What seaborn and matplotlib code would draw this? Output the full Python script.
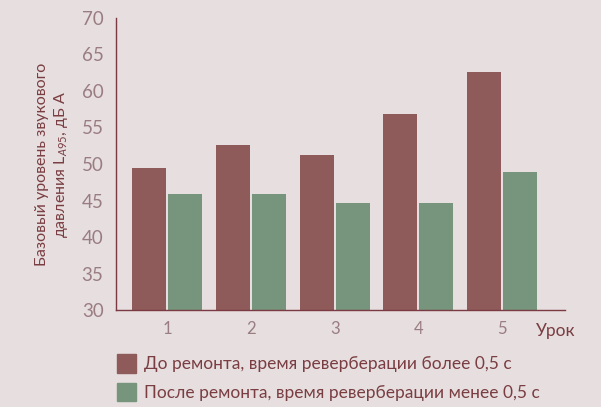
import pandas as pd
import matplotlib.pyplot as plt
import seaborn as sns

# data
lessons = ["1", "2", "3", "4", "5"]
before = [49.5, 52.6, 51.2, 56.9, 62.6]
after = [45.9, 45.9, 44.7, 44.7, 48.9]
series_names = ["До ремонта, время реверберации более 0,5 с",
                "После ремонта, время реверберации менее 0,5 с"]

df = pd.DataFrame({
    "lesson": lessons * 2,
    "value": before + after,
    "series": [series_names[0]] * 5 + [series_names[1]] * 5,
})

bg = "#E6DEDF"
axis_col = "#7B3A42"
tick_col = "#9A7D83"
text_col = "#7A3E42"
palette = ["#8E5B5A", "#77957C"]

sns.set_theme(style="white")
plt.rcParams["font.family"] = ["Lato", "DejaVu Sans"]
plt.rcParams["mathtext.fontset"] = "custom"
plt.rcParams["mathtext.it"] = "Lato:italic"
plt.rcParams["mathtext.rm"] = "Lato"

fig = plt.figure(figsize=(6.01, 4.07), dpi=100, facecolor=bg)
ax = fig.add_axes([0.193, 0.238, 0.747, 0.718])
ax.set_facecolor(bg)

sns.barplot(data=df, x="lesson", y="value", hue="series", palette=palette,
            width=0.86, gap=0.06, bottom=0, saturation=1, linewidth=0,
            ax=ax, legend=False)

ax.set_ylim(30, 70)
ax.set_xlim(-0.61, 4.75)
ax.set_yticks(range(30, 71, 5))

for side in ["top", "right"]:
    ax.spines[side].set_visible(False)
for side in ["left", "bottom"]:
    ax.spines[side].set_color(axis_col)
    ax.spines[side].set_linewidth(1.0)

ax.tick_params(axis="y", length=5, width=1, color=axis_col,
               labelcolor=tick_col, labelsize=13.5, pad=4)
ax.tick_params(axis="x", length=0, labelcolor=tick_col, labelsize=12, pad=8)
ax.set_xlabel("")
ax.set_ylabel("Базовый уровень звукового\nдавления L$_{\\mathit{A95}}$, дБ А",
              color=text_col, fontsize=11.5, labelpad=8, linespacing=1.25)

fig.text(0.957, 0.168, "Урок", color=text_col, fontsize=12.5, ha="right", va="bottom")

handles = [plt.Rectangle((0, 0), 1, 1, color=c) for c in palette]
fig.legend(handles, series_names, loc="upper left", bbox_to_anchor=(0.195, 0.13),
           frameon=False, fontsize=12.5, labelcolor=text_col,
           handlelength=1.1, handleheight=1.3, handletextpad=0.45,
           labelspacing=0.55, borderaxespad=0, borderpad=0)

fig.savefig("out.png", dpi=100, facecolor=bg)
